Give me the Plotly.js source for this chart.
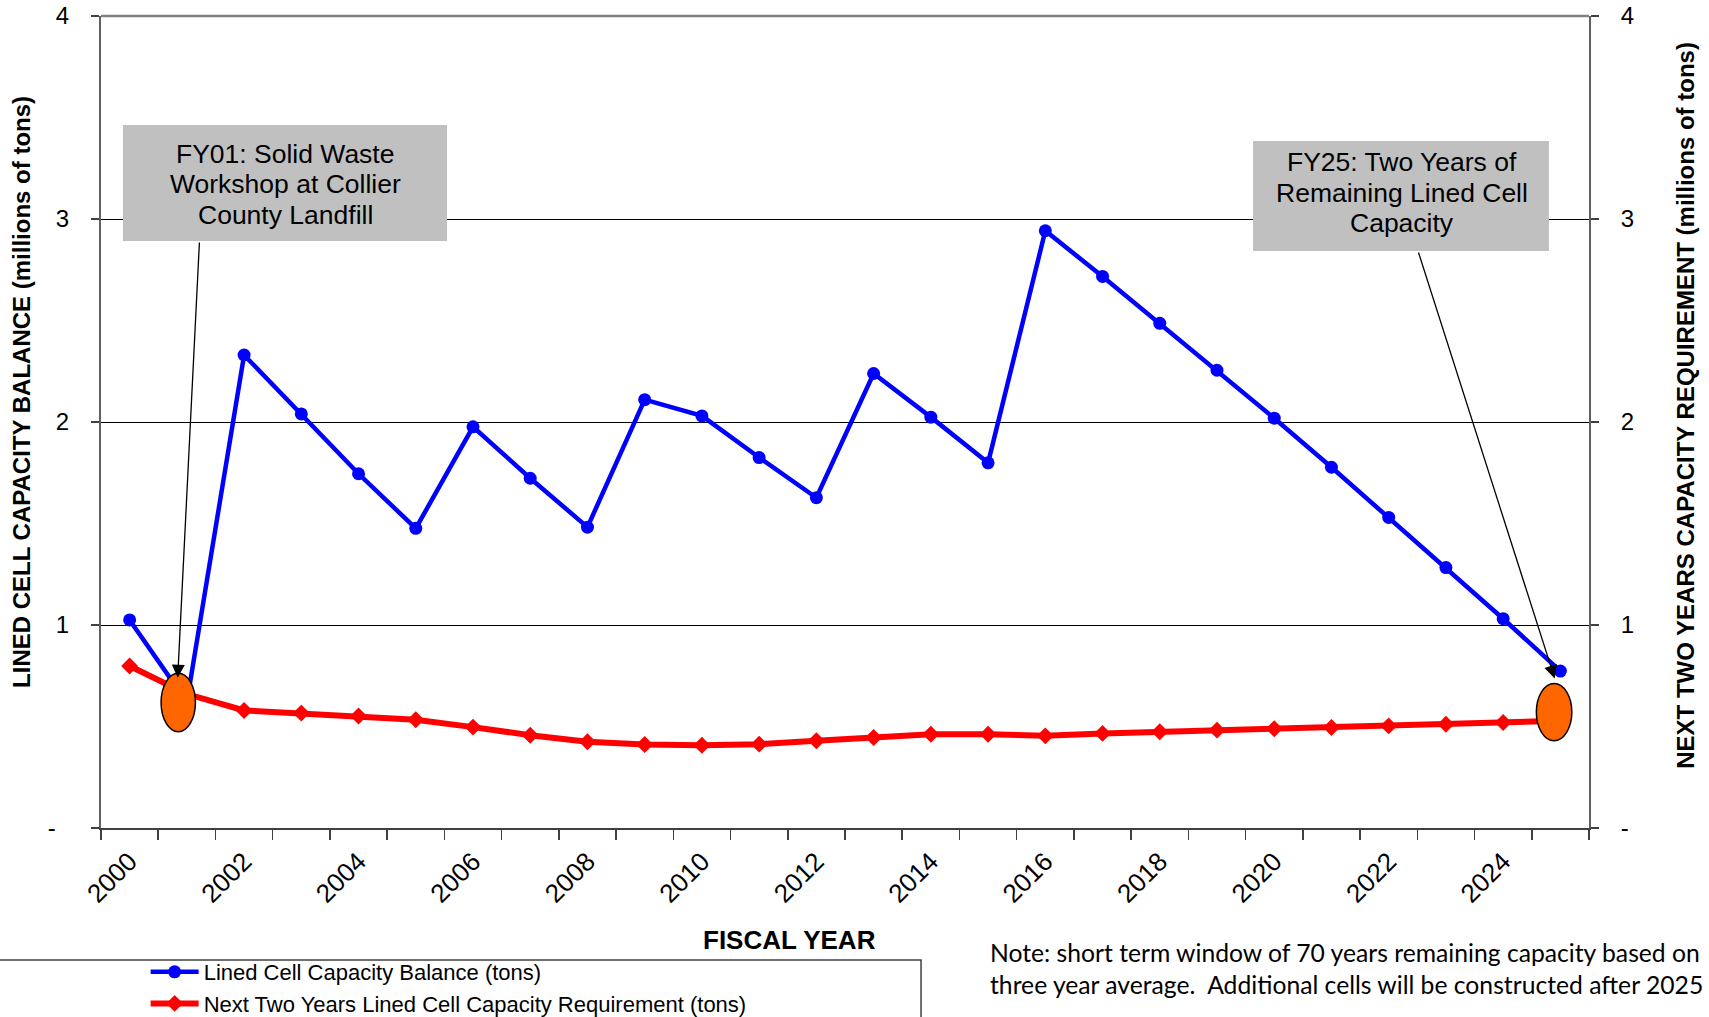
<!DOCTYPE html>
<html>
<head>
<meta charset="utf-8">
<script src="https://cdn.plot.ly/plotly-3.0.1.min.js"></script>
<style>
  html, body { margin: 0; padding: 0; background: #ffffff; }
  #chart { width: 1709px; height: 1017px; }
</style>
</head>
<body>
<div id="chart"></div>
<script>
// ---- Data (millions of tons) ----
var years = [2000, 2001, 2002, 2003, 2004, 2005, 2006, 2007, 2008, 2009, 2010, 2011, 2012,
             2013, 2014, 2015, 2016, 2017, 2018, 2019, 2020, 2021, 2022, 2023, 2024, 2025];

var capacityBalance = [1.025, 0.62, 2.33, 2.04, 1.745, 1.476, 1.976, 1.723, 1.482, 2.11, 2.03, 1.825, 1.627,
                       2.239, 2.024, 1.799, 2.942, 2.717, 2.486, 2.255, 2.019, 1.777, 1.530, 1.283, 1.031, 0.773];

var twoYearRequirement = [0.798, 0.66, 0.579, 0.566, 0.552, 0.533, 0.497, 0.457, 0.425, 0.411, 0.408, 0.413, 0.430,
                          0.446, 0.462, 0.462, 0.454, 0.466, 0.474, 0.482, 0.489, 0.495, 0.503, 0.511, 0.520, 0.528];

var tickYears  = [2000, 2002, 2004, 2006, 2008, 2010, 2012, 2014, 2016, 2018, 2020, 2022, 2024];
var tickLabels = ['2000', '2002', '2004', '2006', '2008', '2010', '2012', '2014', '2016', '2018', '2020', '2022', '2024'];

var yTickValues     = [0, 1, 2, 3, 4];
var yTickLabelsLeft = ['-\u00a0\u00a0', '1', '2', '3', '4'];
var yTickLabelsRight = ['-', '1', '2', '3', '4'];

var seriesNames = ['Lined Cell Capacity Balance (tons)', 'Next Two Years Lined Cell Capacity Requirement (tons)'];

var callout1Lines = ['FY01: Solid Waste', 'Workshop at Collier', 'County Landfill'];
var callout2Lines = ['FY25: Two Years of', 'Remaining Lined Cell', 'Capacity'];
var noteText = 'Note: short term window of 70 years remaining capacity based on<br>three year average.  Additional cells will be constructed after 2025';

// ---- Chart ----
var FONT = '"Liberation Sans", Arial, Helvetica, sans-serif';
var AXIS = '#404040';

var traces = [
  {
    x: years, y: capacityBalance, name: seriesNames[0], type: 'scatter', mode: 'lines+markers',
    line: { color: '#0000FF', width: 4.5 },
    marker: { color: '#0000FF', size: 13, symbol: 'circle' },
    yaxis: 'y'
  },
  {
    x: years, y: twoYearRequirement, name: seriesNames[1], type: 'scatter', mode: 'lines+markers',
    line: { color: '#FF0000', width: 6 },
    marker: { color: '#FF0000', size: 13, symbol: 'diamond' },
    yaxis: 'y2'
  }
];

// callout boxes (gray), placed in data coordinates
var calloutBoxes = [
  { x0: 1999.884, x1: 2005.546, y0: 2.892, y1: 3.463 },
  { x0: 2019.630, x1: 2024.800, y0: 2.842, y1: 3.384 }
];
var callout1Pos = { x: 2002.715, y: [3.322, 3.172, 3.022] };
var callout2Pos = { x: 2022.230, y: [3.279, 3.129, 2.978] };

var shapes = [
  { type: 'line', xref: 'paper', yref: 'paper', x0: 0, x1: 1, y0: 1, y1: 1,
    line: { color: '#808080', width: 2.5 }, layer: 'above' },
  { type: 'rect', xref: 'paper', yref: 'paper', x0: -0.2, x1: 0.5511, y0: -0.40, y1: -0.1626,
    line: { color: '#404040', width: 1.5 }, fillcolor: 'rgba(0,0,0,0)' },
  { type: 'circle', xref: 'x', yref: 'y', x0: 2000.55, x1: 2001.15, y0: 0.474, y1: 0.762,
    fillcolor: '#FF6600', line: { color: '#000000', width: 1.5 }, layer: 'above' },
  { type: 'circle', xref: 'x', yref: 'y', x0: 2024.58, x1: 2025.20, y0: 0.430, y1: 0.712,
    fillcolor: '#FF6600', line: { color: '#000000', width: 1.5 }, layer: 'above' }
];
calloutBoxes.forEach(function (b) {
  shapes.push({ type: 'rect', xref: 'x', yref: 'y', x0: b.x0, x1: b.x1, y0: b.y0, y1: b.y1,
    fillcolor: '#C0C0C0', line: { width: 0 }, layer: 'above' });
});

var annotations = [
  { text: '', xref: 'x', yref: 'y', x: 2000.84, y: 0.74, axref: 'x', ayref: 'y', ax: 2001.221, ay: 2.892,
    showarrow: true, arrowhead: 2, arrowsize: 2, arrowwidth: 1.3, arrowcolor: '#000', standoff: 0, startstandoff: 0 },
  { text: '', xref: 'x', yref: 'y', x: 2024.9, y: 0.737, axref: 'x', ayref: 'y', ax: 2022.513, ay: 2.842,
    showarrow: true, arrowhead: 2, arrowsize: 2, arrowwidth: 1.3, arrowcolor: '#000', standoff: 0, startstandoff: 0 },
  { text: '<b>LINED CELL CAPACITY BALANCE (millions of tons)</b>', xref: 'paper', yref: 'paper',
    x: -0.0531, y: 0.537, textangle: -90, showarrow: false, xanchor: 'center', yanchor: 'middle',
    font: { size: 24, family: FONT, color: '#000' } },
  { text: '<b>NEXT TWO YEARS CAPACITY REQUIREMENT (millions of tons)</b>', xref: 'paper', yref: 'paper',
    x: 1.0652, y: 0.520, textangle: -90, showarrow: false, xanchor: 'center', yanchor: 'middle',
    font: { size: 24, family: FONT, color: '#000' } },
  { text: '<b>FISCAL YEAR</b>', xref: 'paper', yref: 'paper', x: 0.4624, y: -0.1379,
    showarrow: false, xanchor: 'center', yanchor: 'middle',
    font: { size: 26, family: FONT, color: '#000' } },
  { text: noteText, xref: 'paper', yref: 'paper', x: 0.5959, y: -0.173, xanchor: 'left', yanchor: 'middle',
    align: 'left', showarrow: false,
    font: { size: 24.7, family: 'Lato, "Open Sans", sans-serif', color: '#000' } }
];
callout1Lines.forEach(function (t, i) {
  annotations.push({ text: t, xref: 'x', yref: 'y', x: callout1Pos.x, y: callout1Pos.y[i],
    xanchor: 'center', yanchor: 'middle', showarrow: false,
    font: { size: 26.5, family: FONT, color: '#000' } });
});
callout2Lines.forEach(function (t, i) {
  annotations.push({ text: t, xref: 'x', yref: 'y', x: callout2Pos.x, y: callout2Pos.y[i],
    xanchor: 'center', yanchor: 'middle', showarrow: false,
    font: { size: 26.5, family: FONT, color: '#000' } });
});

var layout = {
  width: 1709, height: 1017,
  margin: { l: 101, r: 120, t: 16, b: 189, pad: 0, autoexpand: false },
  paper_bgcolor: '#ffffff', plot_bgcolor: '#ffffff',
  font: { family: FONT, color: '#000000', size: 22 },
  showlegend: true,
  xaxis: {
    type: 'linear', range: [1999.5, 2025.5], fixedrange: true, automargin: false,
    tickmode: 'array', tickvals: tickYears, ticktext: tickLabels,
    tickangle: -45, tickfont: { size: 26, family: FONT, color: '#000' },
    ticks: '', ticklabelstandoff: 6,
    minor: { ticks: 'outside', ticklen: 10, tickwidth: 1.5, tickcolor: AXIS, tickmode: 'linear', tick0: 1999.5, dtick: 1, showgrid: false },
    showgrid: false, zeroline: false,
    showline: true, linecolor: AXIS, linewidth: 2
  },
  yaxis: {
    range: [0, 4], fixedrange: true, automargin: false,
    tickmode: 'array', tickvals: yTickValues, ticktext: yTickLabelsLeft,
    tickfont: { size: 24, family: FONT, color: '#000' },
    ticks: 'outside', ticklen: 8, tickwidth: 1.5, tickcolor: AXIS, ticklabelstandoff: 17,
    showgrid: true, gridcolor: '#000000', gridwidth: 1,
    zeroline: false, showline: true, linecolor: '#606060', linewidth: 2
  },
  yaxis2: {
    range: [0, 4], fixedrange: true, overlaying: 'y', side: 'right', automargin: false,
    tickmode: 'array', tickvals: yTickValues, ticktext: yTickLabelsRight,
    tickfont: { size: 24, family: FONT, color: '#000' },
    ticks: 'outside', ticklen: 8, tickwidth: 1.5, tickcolor: AXIS, ticklabelstandoff: 17,
    showgrid: false, zeroline: false, showline: true, linecolor: '#606060', linewidth: 2
  },
  legend: {
    x: 0.030, y: -0.1515, xanchor: 'left', yanchor: 'top',
    orientation: 'v', bgcolor: 'rgba(0,0,0,0)', borderwidth: 0,
    font: { size: 22, family: FONT, color: '#000' },
    itemwidth: 48, tracegroupgap: 0
  },
  shapes: shapes,
  annotations: annotations
};

Plotly.newPlot('chart', traces, layout, { staticPlot: true, displayModeBar: false });
</script>
</body>
</html>
